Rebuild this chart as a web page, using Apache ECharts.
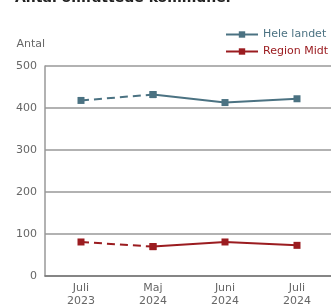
<!DOCTYPE html>
<html lang="da">
<head>
    <meta charset="UTF-8">
    <title>Antal kommuner</title>
    <script src="https://cdn.jsdelivr.net/npm/echarts@6/dist/echarts.min.js"></script>
    <style>
        *{
            margin: 0;
            padding: 0;
        }
        .container{
            width: 331px;
            height: 308px;
        }
    </style>
</head>
<body>
<div class="container"></div>
<script>
    let main = document.querySelector(".container");
    let mycharts = echarts.init(main);

    // data
    let periods = ['Juli\n2023', 'Maj\n2024', 'Juni\n2024', 'Juli\n2024'];
    let heleLandet = [418, 432, 413, 422];
    let regionMidt = [81, 70, 81, 73];
    let names = ['Hele landet', 'Region Midt'];
    let colors = ['#4b7282', '#9b1c20'];

    // first step is dashed, the rest solid
    function solidPart(arr) {
        return arr.map((v, i) => i == 0 ? '-' : v);
    }
    function dashedPart(arr) {
        return arr.map((v, i) => i <= 1 ? v : '-');
    }

    let series = [];
    [heleLandet, regionMidt].forEach((arr, k) => {
        let base = {
            name: names[k],
            type: 'line',
            symbol: 'rect',
            symbolSize: 7,
            color: colors[k],
            itemStyle: { color: colors[k] },
            emphasis: { disabled: true },
            animation: false
        };
        series.push(Object.assign({}, base, {
            data: solidPart(arr),
            lineStyle: { width: 2, color: colors[k] }
        }));
        series.push(Object.assign({}, base, {
            data: dashedPart(arr),
            lineStyle: { width: 2, color: colors[k], type: [8, 5] }
        }));
    });

    let Option = {
        textStyle: { fontFamily: 'DejaVu Sans' },
        title: {
            text: 'Antal omfattede kommuner',
            left: 10,
            top: -14,
            textStyle: { fontSize: 14, fontWeight: 'bold', color: '#222' }
        },
        legend: {
            orient: 'vertical',
            left: 220,
            top: 24,
            itemWidth: 32,
            itemHeight: 8,
            itemGap: 6,
            data: names.map((n, i) => ({
                name: n,
                textStyle: { color: colors[i], fontSize: 11 }
            }))
        },
        grid: {
            left: 45,
            top: 66,
            width: 288,
            height: 210,
            outerBoundsMode: 'none'
        },
        xAxis: {
            type: 'category',
            data: periods,
            axisLine: { lineStyle: { color: '#777', width: 1.5 } },
            axisTick: { alignWithLabel: true, length: 5, lineStyle: { color: '#aaa' } },
            axisLabel: { color: '#666', fontSize: 11, lineHeight: 13, margin: 6 }
        },
        yAxis: {
            type: 'value',
            name: 'Antal',
            nameLocation: 'end',
            nameGap: 16,
            nameTextStyle: { color: '#666', fontSize: 11, align: 'right', padding: [0, 0, 0, 0] },
            min: 0,
            max: 500,
            interval: 100,
            axisLine: { show: true, lineStyle: { color: '#999', width: 1.5 } },
            axisTick: { show: false },
            axisLabel: { color: '#666', fontSize: 11, margin: 8 },
            splitLine: { lineStyle: { color: '#999', width: 1.5 } }
        },
        series
    };

    mycharts.setOption(Option);
</script>
</body>
</html>
